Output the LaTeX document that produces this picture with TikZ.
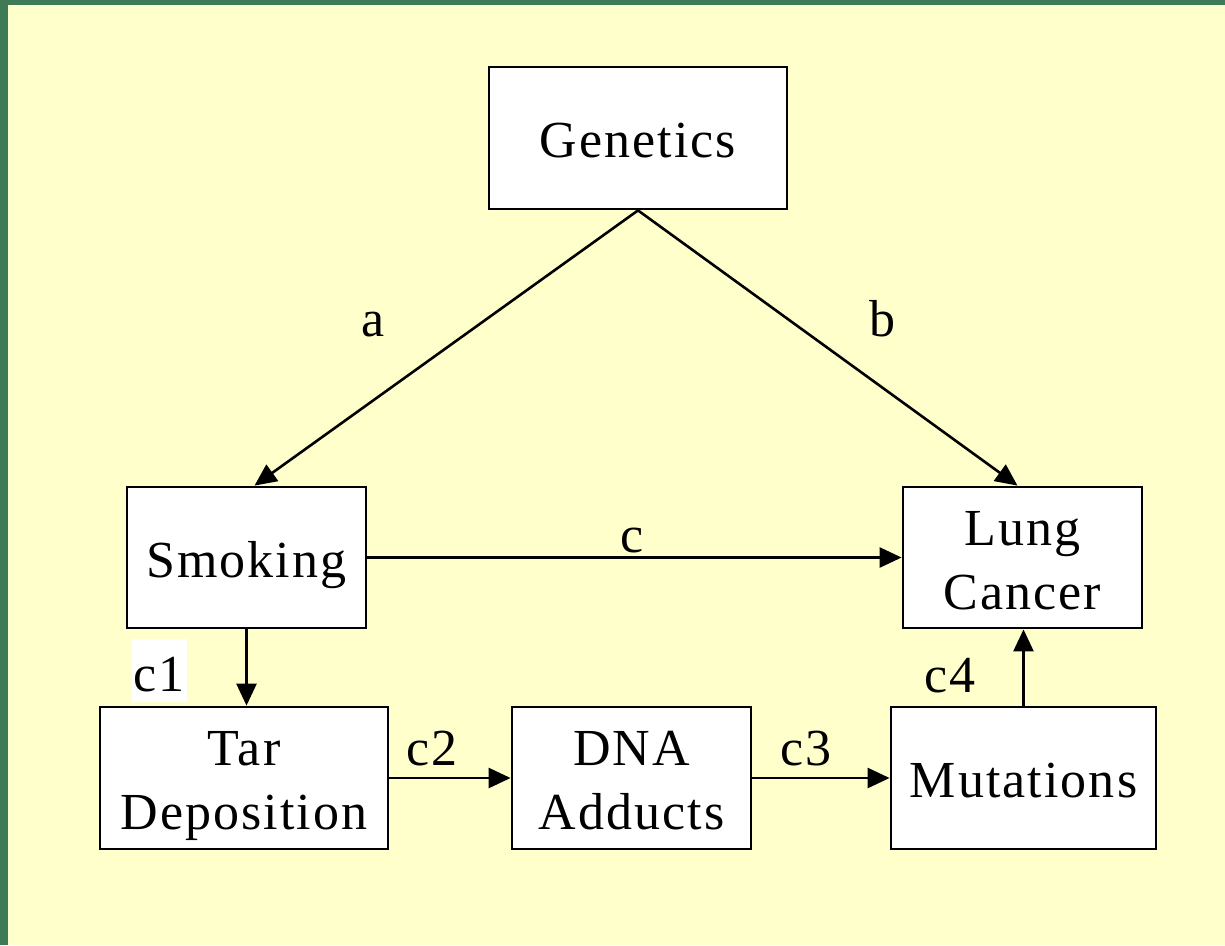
\documentclass[tikz,border=0pt]{standalone}
\usepackage{fontspec}
\setmainfont{Liberation Serif}[LetterSpace=4]
\usetikzlibrary{arrows.meta}
\definecolor{bggreen}{HTML}{3D7A55}
\definecolor{bgyellow}{HTML}{FFFFCC}
\newcommand\bstrut{\rule[-12pt]{0pt}{63pt}}
\tikzset{
  box/.style={draw=black, fill=white, line width=2.8pt, inner sep=0pt, align=center,
    font=\fontsize{52}{64}\selectfont},
  conn/.style={line width=2.6pt, -{Triangle[length=22pt,width=20pt]}},
  lbl/.style={font=\fontsize{52}{64}\selectfont, inner sep=0pt, anchor=base}
}
\begin{document}
\begin{tikzpicture}[x=1pt,y=-1pt]
\useasboundingbox (0,0) rectangle (1225,945);
\fill[bggreen] (0,0) rectangle (1225,945);
\fill[bgyellow] (8,5) rectangle (1225,945);
\node[box, minimum width=298pt, minimum height=142pt] (gen) at (638,138) {\bstrut Genetics};
\node[box, minimum width=239pt, minimum height=141pt] (smk) at (246.5,557.5) {\bstrut Smoking};
\node[box, minimum width=239pt, minimum height=141pt] (lc) at (1022.5,557.5) {\bstrut Lung\\\bstrut Cancer};
\node[box, minimum width=288pt, minimum height=142pt] (tar) at (244,778) {\bstrut Tar\\\bstrut Deposition};
\node[box, minimum width=239pt, minimum height=142pt] (dna) at (631.5,778) {\bstrut DNA\\\bstrut Adducts};
\node[box, minimum width=265pt, minimum height=142pt] (mut) at (1023.5,778) {\bstrut Mutations};
\draw[conn] (gen.south) -- ([xshift=8pt]smk.north);
\draw[conn] (gen.south) -- ([xshift=-5pt]lc.north);
\draw[conn] (smk.east) -- (lc.west);
\draw[conn] (smk.south) -- (smk.south |- tar.north);
\draw[conn] (tar.east) -- (dna.west);
\draw[conn] (dna.east) -- (mut.west);
\draw[conn] (mut.north) -- (mut.north |- lc.south);
\node[lbl] (la) at (373,336) {a};
\node[lbl] (lb) at (882,336) {b};
\node[lbl] (lcc) at (632,552) {c};
\fill[white] (132,639) rectangle (187,702);
\node[lbl] (lc1) at (159,691) {c1};
\node[lbl] (lc2) at (432,765) {c2};
\node[lbl] (lc3) at (806,765) {c3};
\node[lbl] (lc4) at (950,692) {c4};
\end{tikzpicture}
\end{document}
